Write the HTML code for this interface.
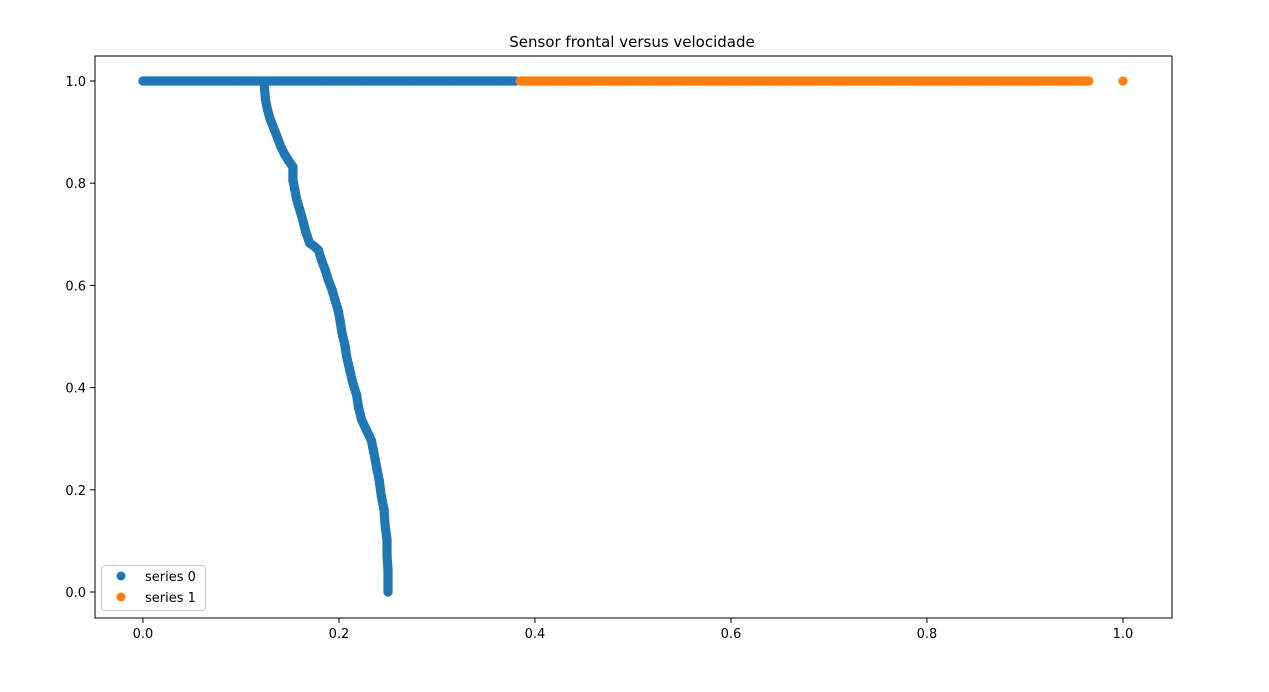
<!DOCTYPE html>
<html><head><meta charset="utf-8"><style>
body{margin:0;background:#fff;font-family:"Liberation Sans",sans-serif}
svg text{font-family:"DejaVu Sans","Liberation Sans",sans-serif;font-size:13px}
</style></head><body>
<svg id="chart" width="1269" height="687">
<text x="632" y="47" text-anchor="middle" font-size="15" style="font-size:15px">Sensor frontal versus velocidade</text>
<rect x="95" y="56" width="1077" height="562" fill="none" stroke="#000"/>
<g id="axes"></g><g id="marks"></g>
<g>
<rect x="101.5" y="565.5" width="104" height="45" rx="3" fill="#fff" stroke="#ccc"/>
<circle cx="121" cy="576" r="4.5" fill="#1f77b4"/>
<text x="145" y="581">series 0</text>
<circle cx="121" cy="597" r="4.5" fill="#ff7f0e"/>
<text x="145" y="602">series 1</text>
</g>
</svg>
<script>
const xTicks=[0,0.2,0.4,0.6,0.8,1.0];
const yTicks=[0,0.2,0.4,0.6,0.8,1.0];
const s0TopX=[0,0.005,0.01,0.02,0.03,0.04,0.05,0.06,0.07,0.08,0.09,0.1,0.11,0.12,0.13,0.14,0.15,0.16,0.17,0.18,0.19,0.2,0.21,0.22,0.23,0.24,0.25,0.26,0.27,0.28,0.29,0.3,0.31,0.32,0.33,0.34,0.35,0.36,0.37,0.38];
const s0CurveX=[0.1235,0.124,0.125,0.127,0.130,0.134,0.138,0.141,0.145,0.149,0.153,0.153,0.153,0.155,0.157,0.160,0.163,0.166,0.170,0.175,0.179,0.182,0.186,0.189,0.193,0.196,0.199,0.201,0.203,0.206,0.208,0.211,0.214,0.218,0.220,0.223,0.228,0.233,0.235,0.237,0.239,0.241,0.243,0.246,0.247,0.249,0.249,0.250,0.250,0.250];
const s0CurveY=[1.0,0.986,0.963,0.944,0.924,0.905,0.885,0.870,0.855,0.843,0.832,0.819,0.806,0.786,0.767,0.748,0.728,0.705,0.683,0.676,0.669,0.650,0.630,0.611,0.591,0.571,0.552,0.532,0.508,0.483,0.459,0.434,0.410,0.385,0.361,0.337,0.317,0.297,0.278,0.258,0.238,0.219,0.190,0.160,0.131,0.102,0.072,0.043,0.020,0.0];
const s1X=[0.385,0.39,0.4,0.41,0.42,0.43,0.44,0.45,0.46,0.47,0.48,0.49,0.5,0.51,0.52,0.53,0.54,0.55,0.56,0.57,0.58,0.59,0.6,0.61,0.62,0.63,0.64,0.65,0.66,0.67,0.68,0.69,0.7,0.71,0.72,0.73,0.74,0.75,0.76,0.77,0.78,0.79,0.8,0.81,0.82,0.83,0.84,0.85,0.86,0.87,0.88,0.89,0.9,0.91,0.92,0.93,0.94,0.95,0.96,0.965];
const s1Outlier=[1.0];
const xs=v=>143+v*980, ys=v=>592-v*511;
const NS="http://www.w3.org/2000/svg";
const axes=document.getElementById('axes'), marks=document.getElementById('marks');
function mk(tag,attrs,parent){const e=document.createElementNS(NS,tag);for(const k in attrs)e.setAttribute(k,attrs[k]);parent.appendChild(e);return e;}
xTicks.forEach(t=>{
  const l=mk('line',{x1:xs(t),x2:xs(t),y1:618,y2:623,stroke:'#000'},axes);
  
  
  const tx=mk('text',{x:xs(t),y:638,'text-anchor':'middle'},axes);tx.textContent=t.toFixed(1);
  
  
});
yTicks.forEach(t=>{
  const l=mk('line',{x1:90,x2:95,y1:ys(t),y2:ys(t),stroke:'#000'},axes);
  
  
  const tx=mk('text',{x:86,y:ys(t)+5,'text-anchor':'end'},axes);tx.textContent=t.toFixed(1);
  
  
});
function band(xArr,yArr,c,name){
  const d=xArr.map((x,i)=>(i?'L':'M')+xs(x)+','+ys(yArr[i])).join(' ');
  const p=mk('path',{d:d,fill:'none',stroke:c,'stroke-width':9.2,'stroke-linecap':'round','stroke-linejoin':'round'},marks);
  
  
}
function pt(x,y,c,name){
  const e=mk('circle',{cx:xs(x),cy:ys(y),r:4.6,fill:c},marks);
  
  
}
band(s0TopX,s0TopX.map(()=>1),'#1f77b4','series-0-dense-band');
band(s0CurveX,s0CurveY,'#1f77b4','series-0-curve-band');
s0TopX.forEach(x=>pt(x,1,'#1f77b4','series-0-point'));
s0CurveX.forEach((x,i)=>pt(x,s0CurveY[i],'#1f77b4','series-0-point'));
band(s1X,s1X.map(()=>1),'#ff7f0e','series-1-dense-band');
s1X.forEach(x=>pt(x,1,'#ff7f0e','series-1-point'));
s1Outlier.forEach(x=>pt(x,1,'#ff7f0e','series-1-point'));
</script>
</body></html>
